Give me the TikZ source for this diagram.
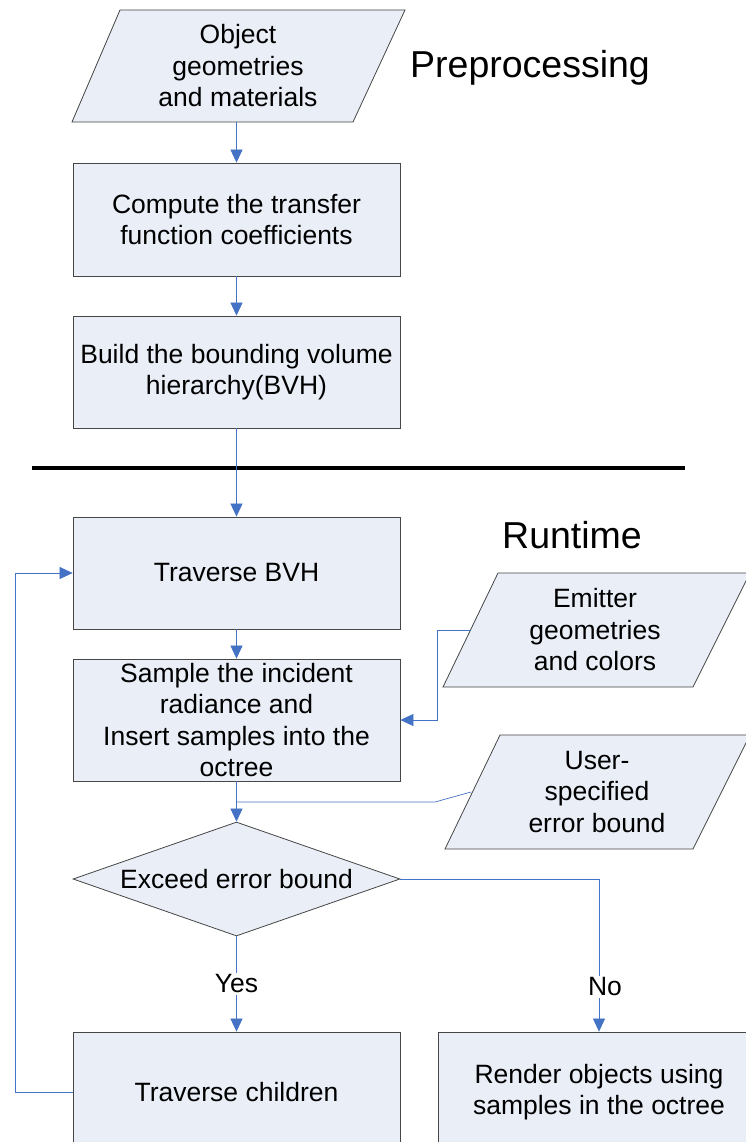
\documentclass[tikz,border=0pt]{standalone}
\usepackage{fontspec}
\setmainfont{Liberation Sans}
\usetikzlibrary{arrows.meta,shapes.geometric}
\definecolor{boxfill}{RGB}{233,238,247}
\definecolor{boxline}{RGB}{70,70,70}
\definecolor{arrowblue}{RGB}{68,114,196}
\tikzset{
  box/.style={draw=boxline, fill=boxfill, line width=0.8pt, minimum width=327pt, inner sep=0pt, align=center, font=\fontsize{26.5}{31.5}\selectfont},
  para/.style={draw=boxline, fill=boxfill, line width=0.8pt},
  ptext/.style={inner sep=0pt, align=center, font=\fontsize{26.5}{31.5}\selectfont},
  decision/.style={diamond, draw=boxline, fill=boxfill, line width=0.8pt, aspect=2.87, minimum width=327pt, minimum height=114pt, inner sep=0pt, font=\fontsize{26.5}{31.5}\selectfont},
  flow/.style={draw=arrowblue, line width=0.7pt},
  arr/.style={flow, -{Triangle[length=13pt,width=12pt]}},
  lbl/.style={fill=white, inner sep=2pt, font=\fontsize{26.5}{31.5}\selectfont},
  title/.style={inner sep=0pt, font=\fontsize{37.5}{40}\selectfont},
}
\begin{document}
\begin{tikzpicture}[x=1pt,y=-1pt]
\clip (0,0) rectangle (746,1142);
\fill[white] (0,0) rectangle (746,1142);

% titles
\node[title] (pre) at (530,68) {Preprocessing};
\node[title] (run) at (572,535) {Runtime};

% input parallelogram
\draw[para] (120,10) -- (405,10) -- (353,122) -- (72,122) -- cycle;
\node[ptext] (obj) at (238,66) {Object\\geometries\\and materials};
\coordinate (objS) at (236.5,122);

% boxes
\node[box, minimum height=113pt] (b2) at (236.5,219.5) {Compute the transfer\\function coefficients};
\node[box, minimum height=112pt] (b3) at (236.5,372) {Build the bounding volume\\hierarchy(BVH)};
\node[box, minimum height=112pt] (b4) at (236.5,573) {Traverse BVH};
\node[box, minimum height=122pt] (b5) at (236.5,720) {Sample the incident\\radiance and\\Insert samples into the\\octree};

% separator
\draw[line width=3.5pt] (32,468) -- (685,468);

% emitter parallelogram
\draw[para] (498,573) -- (750,573) -- (693,687) -- (443,687) -- cycle;
\node[ptext] (emi) at (595,630) {Emitter\\geometries\\and colors};
\coordinate (emiL) at (470.5,630);

% user parallelogram
\draw[para] (500,735) -- (750,735) -- (693,849) -- (445,849) -- cycle;
\node[ptext] (usr) at (597,792) {User-\\specified\\error bound};
\coordinate (usrL) at (471,792);
\coordinate (usrK) at (435,802);
\coordinate (join) at (236.5,802);

% decision
\node[decision] (dec) at (236.5,879) {Exceed error bound};

% bottom boxes
\node[box, minimum height=120pt] (tc) at (236.5,1092) {Traverse children};
\node[box, minimum width=322pt, minimum height=120pt] (ren) at (599,1092) {Render objects using\\samples in the octree};

% connectors
\draw[arr] (objS) -- (b2.north);
\draw[arr] (b2.south) -- (b3.north);
\draw[arr] (b3.south) -- (b4.north);
\draw[arr] (b4.south) -- (b5.north);
\draw[arr] (emiL) -- (437,630) |- (b5.east);
\draw[flow] (usrL) -- (usrK) -- (join);
\draw[arr] (b5.south) -- (dec.north);
\draw[arr] (dec.south) -- (tc.north);
\node[lbl] (yes) at (236.5,984) {Yes};
\draw[arr] (dec.east) -| (ren.north);
\node[lbl] (no) at (605,987) {No};
\draw[arr] (tc.west) -- (15,1092) |- (b4.west);
\end{tikzpicture}
\end{document}
